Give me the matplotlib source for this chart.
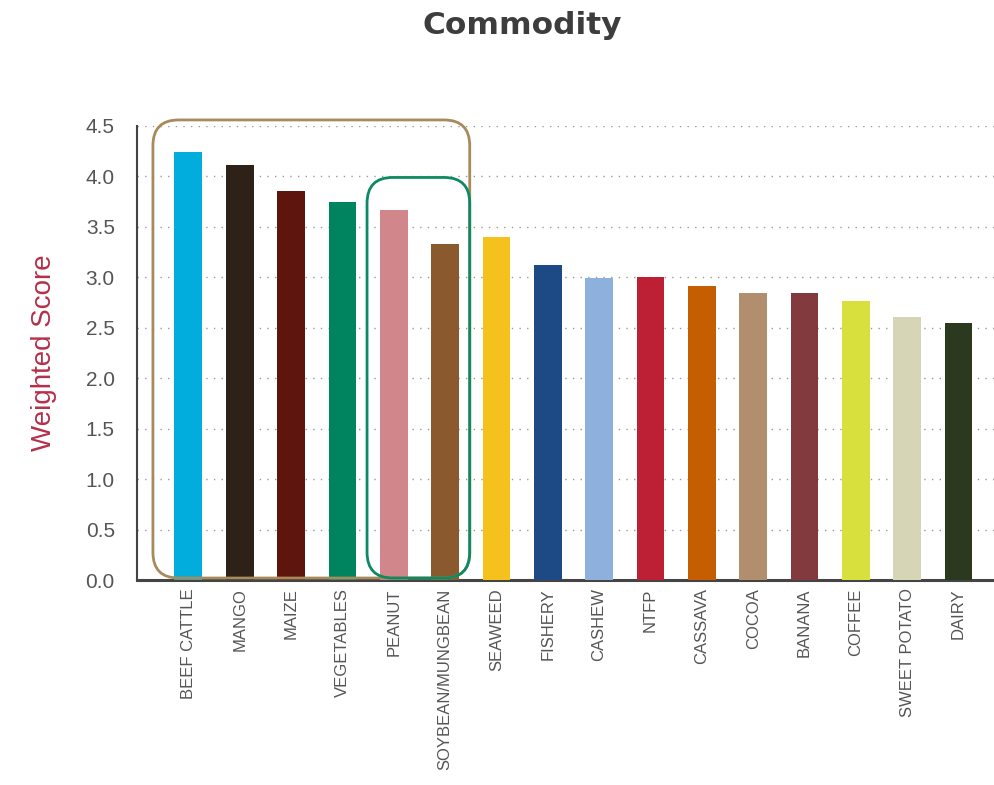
from matplotlib import pyplot as plt
from matplotlib.patches import FancyBboxPatch
import numpy as np

commodities = ['BEEF CATTLE', 'MANGO', 'MAIZE', 'VEGETABLES', 'PEANUT',
               'SOYBEAN/MUNGBEAN', 'SEAWEED', 'FISHERY', 'CASHEW', 'NTFP',
               'CASSAVA', 'COCOA', 'BANANA', 'COFFEE', 'SWEET POTATO', 'DAIRY']
scores = [4.24, 4.11, 3.86, 3.75, 3.67, 3.33, 3.40, 3.12, 2.99, 3.00,
          2.91, 2.84, 2.84, 2.77, 2.61, 2.55]
colors = ['#00ADDC', '#2E2118', '#5E150E', '#00835F', '#D0868A', '#8A5A2E',
          '#F4C11D', '#1D4A85', '#8DB0DD', '#BD2035', '#C45E01', '#B08E6E',
          '#833A3E', '#D8E03E', '#D6D5B6', '#2B3A1E']
yticks = [0.0, 0.5, 1.0, 1.5, 2.0, 2.5, 3.0, 3.5, 4.0, 4.5]

# highlighted groups (first / last bar index)
groups = [(0, 5, '#A88B5C'), (4, 5, '#0E8A62')]

label_font = ['Liberation Sans', 'DejaVu Sans']

fig = plt.figure(figsize=(9.95, 7.85), dpi=100)
ax = fig.add_axes([0.1377, 0.2611, 0.8623, 0.5784])

x = np.arange(len(commodities))
ax.bar(x, scores, width=0.54, color=colors, zorder=3)

ax.set_xlim(-1, len(commodities) - 0.29)
ax.set_ylim(0, 4.5)
ax.set_yticks(yticks)
ax.set_yticklabels(['%.1f' % v for v in yticks], family=label_font,
                   fontsize=15, color='#555555')
ax.set_xticks(x)
ax.set_xticklabels(commodities, rotation=90, family=label_font,
                   fontsize=12, color='#555555', va='top')
ax.tick_params(axis='both', length=0)
ax.tick_params(axis='y', pad=16)
ax.tick_params(axis='x', pad=6)

for v in yticks[1:]:
    ax.axhline(v, color='#9a9a9a', lw=1.0, ls=(0, (1, 4.5)), zorder=1)

for s in ['top', 'right']:
    ax.spines[s].set_visible(False)
ax.spines['left'].set_color('#444444')
ax.spines['left'].set_linewidth(1.5)
ax.spines['bottom'].set_color('#444444')
ax.spines['bottom'].set_linewidth(2.2)

ax.set_ylabel('Weighted Score', family=label_font, fontsize=20,
              color='#B5304A')
ax.yaxis.set_label_coords(-0.093, 0.5)

# rounded highlight boxes
aspect = (4.5 / 454.0) / (1.0 / 51.35)
for i0, i1, c in groups:
    left = x[i0] - 0.69 if i0 == 0 else x[i0] - 0.52
    right = x[i1] + 0.48
    top = max(scores[i0:i1 + 1]) + 0.32
    box = FancyBboxPatch((left, 0.02), right - left, top - 0.02,
                         boxstyle='round,pad=0,rounding_size=0.5',
                         mutation_aspect=aspect, fill=False, ec=c, lw=2,
                         zorder=4, clip_on=False)
    ax.add_patch(box)

fig.text(0.525, 0.968, 'Commodity', ha='center', va='center',
         fontsize=22.5, fontweight='bold', color='#3d3d3d')

fig.savefig('out.png', dpi=100)
